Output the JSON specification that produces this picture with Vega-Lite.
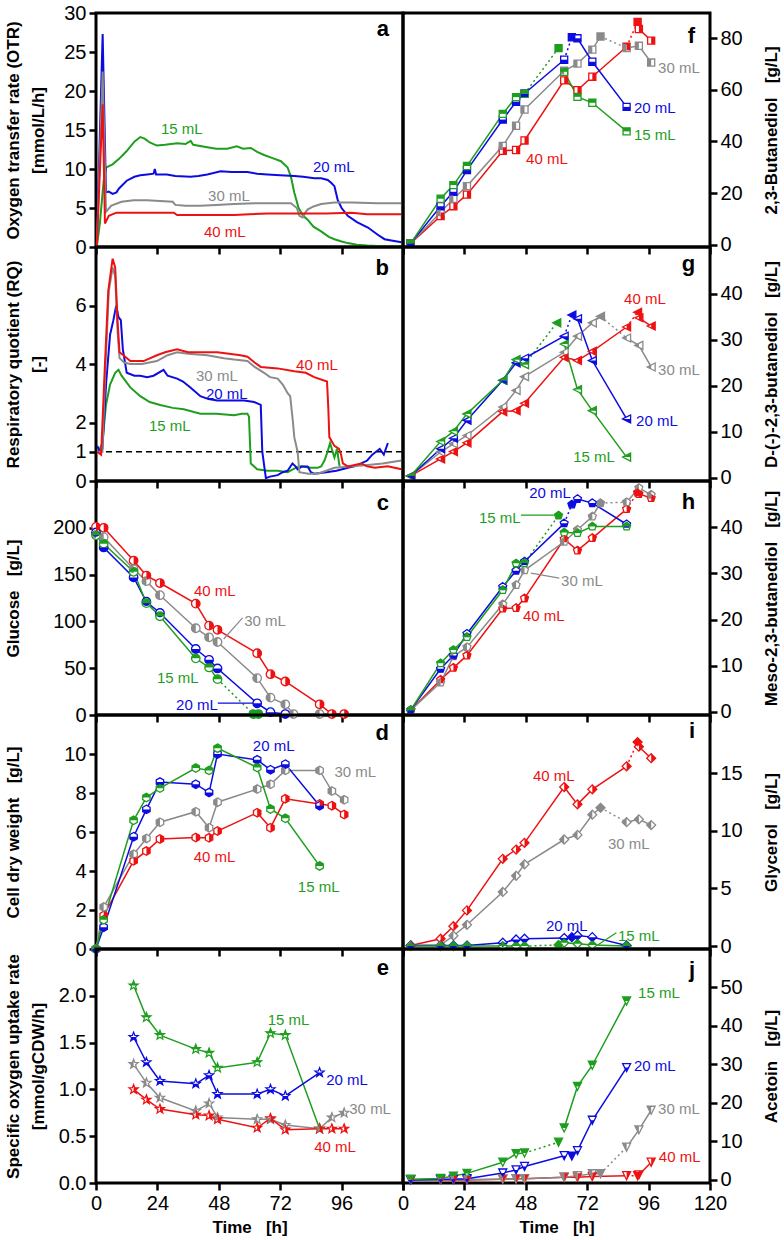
{
"$schema":"https://vega.github.io/schema/vega-lite/v6.json",
"padding":{"left":2,"top":1,"right":5,"bottom":5},
"background":"white",
"config":{"font":"Liberation Sans","view":{"stroke":"black","strokeWidth":3},
"axis":{"grid":false,"domain":false,"tickColor":"black","tickWidth":2.5,"tickSize":7,"labelFont":"Liberation Sans","labelFontSize":20,"labelColor":"black","labelPadding":3,"titleFont":"Liberation Sans","titleFontSize":17,"titleFontWeight":"bold","titleColor":"black","labelFlush":false},
"text":{"font":"Liberation Sans"}},
"datasets":{
"otr":[
{"vol":"15 mL","t":0.3,"v":0},{"vol":"15 mL","t":1.5,"v":3},{"vol":"15 mL","t":3,"v":8.5},{"vol":"15 mL","t":4,"v":10.2},{"vol":"15 mL","t":6.5,"v":10.6},{"vol":"15 mL","t":9,"v":11.3},{"vol":"15 mL","t":12,"v":12.3},{"vol":"15 mL","t":15,"v":13.5},{"vol":"15 mL","t":17.3,"v":14.1},{"vol":"15 mL","t":19,"v":13.9},{"vol":"15 mL","t":21,"v":13.4},{"vol":"15 mL","t":23.8,"v":13},{"vol":"15 mL","t":27,"v":13.1},{"vol":"15 mL","t":31.7,"v":13.3},{"vol":"15 mL","t":35,"v":13.2},{"vol":"15 mL","t":37,"v":13.6},{"vol":"15 mL","t":38,"v":13.1},{"vol":"15 mL","t":43.5,"v":12.8},{"vol":"15 mL","t":47,"v":12.6},{"vol":"15 mL","t":51.3,"v":12.6},{"vol":"15 mL","t":55,"v":12.9},{"vol":"15 mL","t":57.5,"v":12.6},{"vol":"15 mL","t":60.5,"v":12.7},{"vol":"15 mL","t":63,"v":12.2},{"vol":"15 mL","t":65.7,"v":11.8},{"vol":"15 mL","t":69,"v":11.4},{"vol":"15 mL","t":72.3,"v":11},{"vol":"15 mL","t":74.9,"v":10.2},{"vol":"15 mL","t":76.2,"v":9},{"vol":"15 mL","t":77.5,"v":7},{"vol":"15 mL","t":79.2,"v":5},{"vol":"15 mL","t":81,"v":4},{"vol":"15 mL","t":82.7,"v":3.5},{"vol":"15 mL","t":85,"v":2.6},{"vol":"15 mL","t":88,"v":2},{"vol":"15 mL","t":91,"v":1.3},{"vol":"15 mL","t":93.2,"v":1},{"vol":"15 mL","t":96,"v":0.7},{"vol":"15 mL","t":98.4,"v":0.5},{"vol":"15 mL","t":102,"v":0.3},{"vol":"15 mL","t":106,"v":0.2},{"vol":"15 mL","t":112,"v":0.1},{"vol":"15 mL","t":119.5,"v":0.1},
{"vol":"20 mL","t":0.3,"v":0},{"vol":"20 mL","t":2.6,"v":27.3},{"vol":"20 mL","t":3.9,"v":7},{"vol":"20 mL","t":5,"v":7.1},{"vol":"20 mL","t":6.5,"v":6.8},{"vol":"20 mL","t":8,"v":7},{"vol":"20 mL","t":9,"v":7.5},{"vol":"20 mL","t":12,"v":8.5},{"vol":"20 mL","t":15,"v":9},{"vol":"20 mL","t":17.3,"v":9.2},{"vol":"20 mL","t":20,"v":9.3},{"vol":"20 mL","t":22.5,"v":9.4},{"vol":"20 mL","t":23,"v":10},{"vol":"20 mL","t":23.5,"v":9.3},{"vol":"20 mL","t":27.7,"v":9.3},{"vol":"20 mL","t":31,"v":9.1},{"vol":"20 mL","t":36.9,"v":9},{"vol":"20 mL","t":40,"v":9.1},{"vol":"20 mL","t":43.5,"v":9.3},{"vol":"20 mL","t":48.7,"v":9.7},{"vol":"20 mL","t":53,"v":9.6},{"vol":"20 mL","t":59.2,"v":9.6},{"vol":"20 mL","t":63,"v":9.4},{"vol":"20 mL","t":67,"v":9.3},{"vol":"20 mL","t":72,"v":9.2},{"vol":"20 mL","t":77.5,"v":9.1},{"vol":"20 mL","t":81,"v":9},{"vol":"20 mL","t":85.3,"v":8.8},{"vol":"20 mL","t":88,"v":8.8},{"vol":"20 mL","t":90.6,"v":8.6},{"vol":"20 mL","t":92,"v":8.2},{"vol":"20 mL","t":93.2,"v":7.8},{"vol":"20 mL","t":94.5,"v":6},{"vol":"20 mL","t":96,"v":5},{"vol":"20 mL","t":98.4,"v":4},{"vol":"20 mL","t":102,"v":3.2},{"vol":"20 mL","t":106.3,"v":2.5},{"vol":"20 mL","t":110,"v":1.6},{"vol":"20 mL","t":112.8,"v":1},{"vol":"20 mL","t":116,"v":0.8},{"vol":"20 mL","t":119.4,"v":0.6},
{"vol":"30 mL","t":0.3,"v":0},{"vol":"30 mL","t":2.6,"v":22.5},{"vol":"30 mL","t":3.9,"v":4.5},{"vol":"30 mL","t":6,"v":5.3},{"vol":"30 mL","t":10,"v":5.8},{"vol":"30 mL","t":14.7,"v":6},{"vol":"30 mL","t":19.9,"v":6},{"vol":"30 mL","t":25,"v":5.9},{"vol":"30 mL","t":30,"v":5.8},{"vol":"30 mL","t":31,"v":5.4},{"vol":"30 mL","t":35,"v":5.3},{"vol":"30 mL","t":40.8,"v":5.3},{"vol":"30 mL","t":47,"v":5.4},{"vol":"30 mL","t":54,"v":5.5},{"vol":"30 mL","t":62,"v":5.6},{"vol":"30 mL","t":70,"v":5.6},{"vol":"30 mL","t":76.2,"v":5.6},{"vol":"30 mL","t":78.5,"v":5},{"vol":"30 mL","t":79.5,"v":4},{"vol":"30 mL","t":80.8,"v":3.8},{"vol":"30 mL","t":82,"v":4.5},{"vol":"30 mL","t":82.7,"v":4.8},{"vol":"30 mL","t":85,"v":5.2},{"vol":"30 mL","t":88,"v":5.5},{"vol":"30 mL","t":93.2,"v":5.7},{"vol":"30 mL","t":100,"v":5.7},{"vol":"30 mL","t":110,"v":5.6},{"vol":"30 mL","t":119.4,"v":5.6},
{"vol":"40 mL","t":0.3,"v":0},{"vol":"40 mL","t":2.6,"v":18.3},{"vol":"40 mL","t":3.5,"v":3},{"vol":"40 mL","t":5,"v":4},{"vol":"40 mL","t":8,"v":4.4},{"vol":"40 mL","t":15,"v":4.4},{"vol":"40 mL","t":25,"v":4.4},{"vol":"40 mL","t":30.4,"v":4.4},{"vol":"40 mL","t":31.7,"v":4.1},{"vol":"40 mL","t":40,"v":4.1},{"vol":"40 mL","t":54,"v":4.1},{"vol":"40 mL","t":60,"v":4.2},{"vol":"40 mL","t":67,"v":4.3},{"vol":"40 mL","t":80,"v":4.3},{"vol":"40 mL","t":90,"v":4.3},{"vol":"40 mL","t":99.7,"v":4.4},{"vol":"40 mL","t":103,"v":4.3},{"vol":"40 mL","t":106,"v":4.2},{"vol":"40 mL","t":119.4,"v":4.2}],
"rq":[
{"vol":"15 mL","t":0.5,"v":1},{"vol":"15 mL","t":1.5,"v":1.1},{"vol":"15 mL","t":2.5,"v":1.3},{"vol":"15 mL","t":3.9,"v":2.6},{"vol":"15 mL","t":5.5,"v":3.3},{"vol":"15 mL","t":7.5,"v":3.7},{"vol":"15 mL","t":8.8,"v":3.8},{"vol":"15 mL","t":10,"v":3.6},{"vol":"15 mL","t":13.4,"v":3.2},{"vol":"15 mL","t":17.3,"v":2.9},{"vol":"15 mL","t":21,"v":2.7},{"vol":"15 mL","t":25.1,"v":2.6},{"vol":"15 mL","t":30,"v":2.5},{"vol":"15 mL","t":34.3,"v":2.45},{"vol":"15 mL","t":40.8,"v":2.3},{"vol":"15 mL","t":47,"v":2.3},{"vol":"15 mL","t":54,"v":2.25},{"vol":"15 mL","t":57,"v":2.3},{"vol":"15 mL","t":59.2,"v":2.3},{"vol":"15 mL","t":59.8,"v":2.2},{"vol":"15 mL","t":60.5,"v":0.6},{"vol":"15 mL","t":63,"v":0.4},{"vol":"15 mL","t":67,"v":0.35},{"vol":"15 mL","t":71,"v":0.35},{"vol":"15 mL","t":74.9,"v":0.3},{"vol":"15 mL","t":78,"v":0.45},{"vol":"15 mL","t":80,"v":0.5},{"vol":"15 mL","t":84,"v":0.45},{"vol":"15 mL","t":86.6,"v":0.45},{"vol":"15 mL","t":88,"v":0.5},{"vol":"15 mL","t":89.3,"v":0.7},{"vol":"15 mL","t":90.5,"v":1},{"vol":"15 mL","t":91.5,"v":1.3},{"vol":"15 mL","t":92.5,"v":1},{"vol":"15 mL","t":93.2,"v":0.8},{"vol":"15 mL","t":94.2,"v":1.1},{"vol":"15 mL","t":95.2,"v":0.5},
{"vol":"20 mL","t":0.5,"v":1.2},{"vol":"20 mL","t":1.5,"v":1},{"vol":"20 mL","t":2.5,"v":1.1},{"vol":"20 mL","t":4,"v":3.4},{"vol":"20 mL","t":5.5,"v":5},{"vol":"20 mL","t":6.8,"v":5.5},{"vol":"20 mL","t":7.9,"v":6},{"vol":"20 mL","t":8.8,"v":5.6},{"vol":"20 mL","t":9.7,"v":5.5},{"vol":"20 mL","t":10.5,"v":4.5},{"vol":"20 mL","t":12,"v":3.7},{"vol":"20 mL","t":15,"v":3.6},{"vol":"20 mL","t":17.3,"v":3.6},{"vol":"20 mL","t":20,"v":3.55},{"vol":"20 mL","t":22.5,"v":3.6},{"vol":"20 mL","t":26.4,"v":3.8},{"vol":"20 mL","t":28,"v":3.6},{"vol":"20 mL","t":31.7,"v":3.5},{"vol":"20 mL","t":34,"v":3.4},{"vol":"20 mL","t":36.9,"v":3.2},{"vol":"20 mL","t":40.8,"v":2.9},{"vol":"20 mL","t":44,"v":2.8},{"vol":"20 mL","t":47.4,"v":2.75},{"vol":"20 mL","t":52,"v":2.75},{"vol":"20 mL","t":57.9,"v":2.75},{"vol":"20 mL","t":61.8,"v":2.7},{"vol":"20 mL","t":64.4,"v":2.6},{"vol":"20 mL","t":65,"v":1},{"vol":"20 mL","t":66.4,"v":0.1},{"vol":"20 mL","t":68,"v":0.15},{"vol":"20 mL","t":71,"v":0.2},{"vol":"20 mL","t":73,"v":0.3},{"vol":"20 mL","t":74.9,"v":0.35},{"vol":"20 mL","t":76.8,"v":0.6},{"vol":"20 mL","t":78,"v":0.5},{"vol":"20 mL","t":78.8,"v":0.4},{"vol":"20 mL","t":80.5,"v":0.5},{"vol":"20 mL","t":82.7,"v":0.5},{"vol":"20 mL","t":84,"v":0.3},{"vol":"20 mL","t":85.3,"v":0.25},{"vol":"20 mL","t":90,"v":0.3},{"vol":"20 mL","t":94,"v":0.35},{"vol":"20 mL","t":98.4,"v":0.45},{"vol":"20 mL","t":101,"v":0.5},{"vol":"20 mL","t":103.7,"v":0.6},{"vol":"20 mL","t":106,"v":0.7},{"vol":"20 mL","t":108,"v":0.9},{"vol":"20 mL","t":110.9,"v":1.1},{"vol":"20 mL","t":112.5,"v":0.9},{"vol":"20 mL","t":114.1,"v":1.3},
{"vol":"30 mL","t":0.5,"v":1},{"vol":"30 mL","t":2.5,"v":1},{"vol":"30 mL","t":3.5,"v":3.5},{"vol":"30 mL","t":5,"v":6.5},{"vol":"30 mL","t":6.5,"v":7.3},{"vol":"30 mL","t":7.5,"v":7},{"vol":"30 mL","t":8.5,"v":5},{"vol":"30 mL","t":9.2,"v":4.2},{"vol":"30 mL","t":11,"v":4.05},{"vol":"30 mL","t":13.4,"v":4},{"vol":"30 mL","t":18,"v":4},{"vol":"30 mL","t":23.8,"v":4.1},{"vol":"30 mL","t":28,"v":4.3},{"vol":"30 mL","t":31.7,"v":4.4},{"vol":"30 mL","t":36,"v":4.35},{"vol":"30 mL","t":43.5,"v":4.3},{"vol":"30 mL","t":50,"v":4.2},{"vol":"30 mL","t":54,"v":4.15},{"vol":"30 mL","t":59.2,"v":4.1},{"vol":"30 mL","t":62,"v":3.9},{"vol":"30 mL","t":65.7,"v":3.7},{"vol":"30 mL","t":68,"v":3.55},{"vol":"30 mL","t":71,"v":3.5},{"vol":"30 mL","t":73,"v":3.3},{"vol":"30 mL","t":74.9,"v":3},{"vol":"30 mL","t":75.9,"v":2.9},{"vol":"30 mL","t":77,"v":2},{"vol":"30 mL","t":77.5,"v":1.5},{"vol":"30 mL","t":78.8,"v":1},{"vol":"30 mL","t":79.5,"v":0.3},{"vol":"30 mL","t":83,"v":0.25},{"vol":"30 mL","t":86.6,"v":0.25},{"vol":"30 mL","t":90,"v":0.35},{"vol":"30 mL","t":93.2,"v":0.45},{"vol":"30 mL","t":100,"v":0.5},{"vol":"30 mL","t":106.3,"v":0.55},{"vol":"30 mL","t":112,"v":0.6},{"vol":"30 mL","t":119.4,"v":0.7},
{"vol":"40 mL","t":0.5,"v":1},{"vol":"40 mL","t":2,"v":0.9},{"vol":"40 mL","t":3.5,"v":4},{"vol":"40 mL","t":4.8,"v":6.5},{"vol":"40 mL","t":6.5,"v":7.6},{"vol":"40 mL","t":7.5,"v":7.3},{"vol":"40 mL","t":8.4,"v":5.5},{"vol":"40 mL","t":9.2,"v":4.4},{"vol":"40 mL","t":10.7,"v":4.3},{"vol":"40 mL","t":13.4,"v":4.1},{"vol":"40 mL","t":18.6,"v":4.1},{"vol":"40 mL","t":23.8,"v":4.3},{"vol":"40 mL","t":27,"v":4.4},{"vol":"40 mL","t":31.7,"v":4.5},{"vol":"40 mL","t":36,"v":4.4},{"vol":"40 mL","t":40.8,"v":4.4},{"vol":"40 mL","t":47.4,"v":4.4},{"vol":"40 mL","t":52,"v":4.35},{"vol":"40 mL","t":56.5,"v":4.3},{"vol":"40 mL","t":59.2,"v":4.25},{"vol":"40 mL","t":62,"v":4.05},{"vol":"40 mL","t":64.4,"v":3.9},{"vol":"40 mL","t":71,"v":3.85},{"vol":"40 mL","t":77.5,"v":3.75},{"vol":"40 mL","t":82,"v":3.7},{"vol":"40 mL","t":85.3,"v":3.55},{"vol":"40 mL","t":90.3,"v":3.4},{"vol":"40 mL","t":90.8,"v":2.5},{"vol":"40 mL","t":91.2,"v":1.5},{"vol":"40 mL","t":93.2,"v":1.2},{"vol":"40 mL","t":95,"v":1.1},{"vol":"40 mL","t":95.8,"v":0.9},{"vol":"40 mL","t":96.5,"v":0.6},{"vol":"40 mL","t":98.4,"v":0.5},{"vol":"40 mL","t":103.7,"v":0.6},{"vol":"40 mL","t":106,"v":0.5},{"vol":"40 mL","t":109,"v":0.45},{"vol":"40 mL","t":114,"v":0.5},{"vol":"40 mL","t":119.4,"v":0.4}],
"pts":[
{"p":"c","vol":"40 mL","t":0,"v":201},{"p":"c","vol":"40 mL","t":3,"v":200},{"p":"c","vol":"40 mL","t":14.7,"v":165},{"p":"c","vol":"40 mL","t":19.7,"v":149},{"p":"c","vol":"40 mL","t":25,"v":141},{"p":"c","vol":"40 mL","t":39,"v":119},{"p":"c","vol":"40 mL","t":44.2,"v":95.5},{"p":"c","vol":"40 mL","t":47.5,"v":91},{"p":"c","vol":"40 mL","t":63,"v":66},{"p":"c","vol":"40 mL","t":68.2,"v":43.6},{"p":"c","vol":"40 mL","t":74,"v":35.8},{"p":"c","vol":"40 mL","t":87.4,"v":11.4},{"p":"c","vol":"40 mL","t":92.2,"v":1},{"p":"c","vol":"40 mL","t":97,"v":1},
{"p":"c","vol":"30 mL","t":0,"v":193},{"p":"c","vol":"30 mL","t":3,"v":190},{"p":"c","vol":"30 mL","t":14.7,"v":156},{"p":"c","vol":"30 mL","t":19.7,"v":143},{"p":"c","vol":"30 mL","t":25,"v":128},{"p":"c","vol":"30 mL","t":39,"v":92.7},{"p":"c","vol":"30 mL","t":44.2,"v":83},{"p":"c","vol":"30 mL","t":47.5,"v":78},{"p":"c","vol":"30 mL","t":63,"v":39.4},{"p":"c","vol":"30 mL","t":68.2,"v":18.6},{"p":"c","vol":"30 mL","t":74,"v":11.4},{"p":"c","vol":"30 mL","t":77.2,"v":1},{"p":"c","vol":"30 mL","t":87.4,"v":1},
{"p":"c","vol":"20 mL","t":0,"v":195},{"p":"c","vol":"20 mL","t":3,"v":179},{"p":"c","vol":"20 mL","t":14.7,"v":147},{"p":"c","vol":"20 mL","t":19.7,"v":121},{"p":"c","vol":"20 mL","t":25,"v":109},{"p":"c","vol":"20 mL","t":39,"v":70.5},{"p":"c","vol":"20 mL","t":44.2,"v":59},{"p":"c","vol":"20 mL","t":47.5,"v":49.7},{"p":"c","vol":"20 mL","t":63,"v":12.5},{"p":"c","vol":"20 mL","t":68.2,"v":3},{"p":"c","vol":"20 mL","t":74,"v":1},
{"p":"c","vol":"15 mL","t":0,"v":192},{"p":"c","vol":"15 mL","t":3,"v":183},{"p":"c","vol":"15 mL","t":14.7,"v":153},{"p":"c","vol":"15 mL","t":19.7,"v":119.5},{"p":"c","vol":"15 mL","t":25,"v":105.5},{"p":"c","vol":"15 mL","t":39,"v":60.5},{"p":"c","vol":"15 mL","t":44.2,"v":50.8},{"p":"c","vol":"15 mL","t":47.5,"v":38.3},{"p":"c","vol":"15 mL","t":61.5,"v":1,"g":"x","f":1},{"p":"c","vol":"15 mL","t":63.5,"v":1,"g":"x","f":1},
{"p":"d","vol":"40 mL","t":0,"v":0},{"p":"d","vol":"40 mL","t":3,"v":1.72},{"p":"d","vol":"40 mL","t":14.7,"v":4.52},{"p":"d","vol":"40 mL","t":19.7,"v":5.02},{"p":"d","vol":"40 mL","t":25,"v":5.64},{"p":"d","vol":"40 mL","t":39,"v":5.72},{"p":"d","vol":"40 mL","t":44.2,"v":5.7},{"p":"d","vol":"40 mL","t":47.5,"v":6.05},{"p":"d","vol":"40 mL","t":63,"v":6.99},{"p":"d","vol":"40 mL","t":68.2,"v":6.22},{"p":"d","vol":"40 mL","t":74,"v":7.7},{"p":"d","vol":"40 mL","t":87.4,"v":7.44},{"p":"d","vol":"40 mL","t":92.2,"v":7.35},{"p":"d","vol":"40 mL","t":97,"v":6.9},
{"p":"d","vol":"30 mL","t":0,"v":0},{"p":"d","vol":"30 mL","t":3,"v":2.15},{"p":"d","vol":"30 mL","t":14.7,"v":4.86},{"p":"d","vol":"30 mL","t":19.7,"v":5.67},{"p":"d","vol":"30 mL","t":25,"v":6.5},{"p":"d","vol":"30 mL","t":39,"v":7.04},{"p":"d","vol":"30 mL","t":44.2,"v":6.22},{"p":"d","vol":"30 mL","t":47.5,"v":7.53},{"p":"d","vol":"30 mL","t":63,"v":8.2},{"p":"d","vol":"30 mL","t":68.2,"v":8.45},{"p":"d","vol":"30 mL","t":74,"v":9.16},{"p":"d","vol":"30 mL","t":87.4,"v":9.16},{"p":"d","vol":"30 mL","t":92.2,"v":8.1},{"p":"d","vol":"30 mL","t":97,"v":7.65},
{"p":"d","vol":"20 mL","t":0,"v":0},{"p":"d","vol":"20 mL","t":3,"v":1.12},{"p":"d","vol":"20 mL","t":14.7,"v":5.76},{"p":"d","vol":"20 mL","t":19.7,"v":7.16},{"p":"d","vol":"20 mL","t":25,"v":8.56},{"p":"d","vol":"20 mL","t":39,"v":8.45},{"p":"d","vol":"20 mL","t":44.2,"v":8.02},{"p":"d","vol":"20 mL","t":47.5,"v":10},{"p":"d","vol":"20 mL","t":63,"v":9.7},{"p":"d","vol":"20 mL","t":68.2,"v":9.19},{"p":"d","vol":"20 mL","t":74,"v":9.48},{"p":"d","vol":"20 mL","t":87.4,"v":7.35},
{"p":"d","vol":"15 mL","t":0,"v":0},{"p":"d","vol":"15 mL","t":3,"v":1.5},{"p":"d","vol":"15 mL","t":14.7,"v":6.6},{"p":"d","vol":"15 mL","t":19.7,"v":7.77},{"p":"d","vol":"15 mL","t":25,"v":8.25},{"p":"d","vol":"15 mL","t":39,"v":9.28},{"p":"d","vol":"15 mL","t":44.2,"v":9.16},{"p":"d","vol":"15 mL","t":47.5,"v":10.3},{"p":"d","vol":"15 mL","t":63,"v":9.31},{"p":"d","vol":"15 mL","t":68.2,"v":7.18},{"p":"d","vol":"15 mL","t":74,"v":6.7},{"p":"d","vol":"15 mL","t":87.4,"v":4.26},
{"p":"e","vol":"15 mL","t":14.7,"v":2.11},{"p":"e","vol":"15 mL","t":19.7,"v":1.77},{"p":"e","vol":"15 mL","t":25,"v":1.58},{"p":"e","vol":"15 mL","t":39,"v":1.43},{"p":"e","vol":"15 mL","t":44.2,"v":1.39},{"p":"e","vol":"15 mL","t":47.5,"v":1.23},{"p":"e","vol":"15 mL","t":63,"v":1.29},{"p":"e","vol":"15 mL","t":68.2,"v":1.6},{"p":"e","vol":"15 mL","t":74,"v":1.58},{"p":"e","vol":"15 mL","t":87.4,"v":0.58},
{"p":"e","vol":"20 mL","t":14.7,"v":1.56},{"p":"e","vol":"20 mL","t":19.7,"v":1.29},{"p":"e","vol":"20 mL","t":25,"v":1.09},{"p":"e","vol":"20 mL","t":39,"v":1.06},{"p":"e","vol":"20 mL","t":44.2,"v":1.15},{"p":"e","vol":"20 mL","t":47.5,"v":0.95},{"p":"e","vol":"20 mL","t":63,"v":0.95},{"p":"e","vol":"20 mL","t":68.2,"v":1},{"p":"e","vol":"20 mL","t":74,"v":0.93},{"p":"e","vol":"20 mL","t":87.4,"v":1.18},
{"p":"e","vol":"30 mL","t":14.7,"v":1.27},{"p":"e","vol":"30 mL","t":19.7,"v":1.07},{"p":"e","vol":"30 mL","t":25,"v":0.91},{"p":"e","vol":"30 mL","t":39,"v":0.77},{"p":"e","vol":"30 mL","t":44.2,"v":0.85},{"p":"e","vol":"30 mL","t":47.5,"v":0.7},{"p":"e","vol":"30 mL","t":63,"v":0.68},{"p":"e","vol":"30 mL","t":68.2,"v":0.68},{"p":"e","vol":"30 mL","t":74,"v":0.62},{"p":"e","vol":"30 mL","t":87.4,"v":0.58},{"p":"e","vol":"30 mL","t":92.2,"v":0.7},{"p":"e","vol":"30 mL","t":97,"v":0.75},
{"p":"e","vol":"40 mL","t":14.7,"v":1},{"p":"e","vol":"40 mL","t":19.7,"v":0.89},{"p":"e","vol":"40 mL","t":25,"v":0.79},{"p":"e","vol":"40 mL","t":39,"v":0.73},{"p":"e","vol":"40 mL","t":44.2,"v":0.72},{"p":"e","vol":"40 mL","t":47.5,"v":0.68},{"p":"e","vol":"40 mL","t":63,"v":0.59},{"p":"e","vol":"40 mL","t":68.2,"v":0.69},{"p":"e","vol":"40 mL","t":74,"v":0.57},{"p":"e","vol":"40 mL","t":87.4,"v":0.58},{"p":"e","vol":"40 mL","t":92.2,"v":0.58},{"p":"e","vol":"40 mL","t":97,"v":0.58},
{"p":"f","vol":"40 mL","t":3,"v":0.5},{"p":"f","vol":"40 mL","t":14.7,"v":11.1},{"p":"f","vol":"40 mL","t":19.7,"v":14.9},{"p":"f","vol":"40 mL","t":25,"v":19.4},{"p":"f","vol":"40 mL","t":39,"v":36.4},{"p":"f","vol":"40 mL","t":44.2,"v":36.7},{"p":"f","vol":"40 mL","t":47.5,"v":40.4},{"p":"f","vol":"40 mL","t":63,"v":63.7},{"p":"f","vol":"40 mL","t":68.2,"v":59.9},{"p":"f","vol":"40 mL","t":74,"v":65.1},{"p":"f","vol":"40 mL","t":87.4,"v":76.7},{"p":"f","vol":"40 mL","t":91.7,"v":86.3,"g":"x","f":1},{"p":"f","vol":"40 mL","t":92.2,"v":83.6,"g":"b"},{"p":"f","vol":"40 mL","t":97,"v":79.1,"g":"b"},
{"p":"f","vol":"30 mL","t":3,"v":0.5},{"p":"f","vol":"30 mL","t":14.7,"v":12.6},{"p":"f","vol":"30 mL","t":19.7,"v":17.8},{"p":"f","vol":"30 mL","t":25,"v":22.7},{"p":"f","vol":"30 mL","t":39,"v":38.3},{"p":"f","vol":"30 mL","t":44.2,"v":46.1},{"p":"f","vol":"30 mL","t":47.5,"v":52.4},{"p":"f","vol":"30 mL","t":63,"v":67.4},{"p":"f","vol":"30 mL","t":68.2,"v":70.2},{"p":"f","vol":"30 mL","t":74,"v":75.6},{"p":"f","vol":"30 mL","t":77.2,"v":80.7,"f":1},{"p":"f","vol":"30 mL","t":87.4,"v":76.2,"g":"b"},{"p":"f","vol":"30 mL","t":92.2,"v":77.1,"g":"b"},{"p":"f","vol":"30 mL","t":97,"v":70.6,"g":"b"},
{"p":"f","vol":"20 mL","t":3,"v":0.5},{"p":"f","vol":"20 mL","t":14.7,"v":14.9},{"p":"f","vol":"20 mL","t":19.7,"v":20.5},{"p":"f","vol":"20 mL","t":25,"v":28.9},{"p":"f","vol":"20 mL","t":39,"v":48.5},{"p":"f","vol":"20 mL","t":44.2,"v":55.4},{"p":"f","vol":"20 mL","t":47.5,"v":58.6},{"p":"f","vol":"20 mL","t":63,"v":71.7},{"p":"f","vol":"20 mL","t":66,"v":80.4,"g":"x","f":1},{"p":"f","vol":"20 mL","t":68.2,"v":80,"g":"b"},{"p":"f","vol":"20 mL","t":74,"v":70.9,"g":"b"},{"p":"f","vol":"20 mL","t":87.4,"v":53.4,"g":"b"},
{"p":"f","vol":"15 mL","t":3,"v":0.5},{"p":"f","vol":"15 mL","t":14.7,"v":17.8},{"p":"f","vol":"15 mL","t":19.7,"v":23.1},{"p":"f","vol":"15 mL","t":25,"v":30.5},{"p":"f","vol":"15 mL","t":39,"v":50.7},{"p":"f","vol":"15 mL","t":44.2,"v":57.2},{"p":"f","vol":"15 mL","t":47.5,"v":58.5},{"p":"f","vol":"15 mL","t":60.8,"v":76.2,"g":"x","f":1},{"p":"f","vol":"15 mL","t":63,"v":67,"g":"b"},{"p":"f","vol":"15 mL","t":68.2,"v":57.3,"g":"b"},{"p":"f","vol":"15 mL","t":74,"v":55,"g":"b"},{"p":"f","vol":"15 mL","t":87.4,"v":43.9,"g":"b"},
{"p":"g","vol":"40 mL","t":3,"v":0.4},{"p":"g","vol":"40 mL","t":14.7,"v":4.1},{"p":"g","vol":"40 mL","t":19.7,"v":5.7},{"p":"g","vol":"40 mL","t":25,"v":7.6},{"p":"g","vol":"40 mL","t":39,"v":14.4},{"p":"g","vol":"40 mL","t":44.2,"v":14.6},{"p":"g","vol":"40 mL","t":47.5,"v":16.2},{"p":"g","vol":"40 mL","t":63,"v":26.2},{"p":"g","vol":"40 mL","t":68.2,"v":25.5},{"p":"g","vol":"40 mL","t":74,"v":27.5},{"p":"g","vol":"40 mL","t":87.4,"v":32.8},{"p":"g","vol":"40 mL","t":91.7,"v":36,"g":"x","f":1},{"p":"g","vol":"40 mL","t":92.2,"v":34.8,"g":"b"},{"p":"g","vol":"40 mL","t":97,"v":33,"g":"b"},
{"p":"g","vol":"30 mL","t":3,"v":0.4},{"p":"g","vol":"30 mL","t":14.7,"v":5.6},{"p":"g","vol":"30 mL","t":19.7,"v":7.4},{"p":"g","vol":"30 mL","t":25,"v":9.2},{"p":"g","vol":"30 mL","t":39,"v":15.4},{"p":"g","vol":"30 mL","t":44.2,"v":19},{"p":"g","vol":"30 mL","t":47.5,"v":22},{"p":"g","vol":"30 mL","t":63,"v":27.3},{"p":"g","vol":"30 mL","t":68.2,"v":30.8},{"p":"g","vol":"30 mL","t":74,"v":33.7},{"p":"g","vol":"30 mL","t":77.2,"v":35.1,"f":1},{"p":"g","vol":"30 mL","t":87.4,"v":30.4,"g":"b"},{"p":"g","vol":"30 mL","t":92.2,"v":28.8,"g":"b"},{"p":"g","vol":"30 mL","t":97,"v":24.1,"g":"b"},
{"p":"g","vol":"20 mL","t":3,"v":0.4},{"p":"g","vol":"20 mL","t":14.7,"v":6.3},{"p":"g","vol":"20 mL","t":19.7,"v":8.6},{"p":"g","vol":"20 mL","t":25,"v":12.5},{"p":"g","vol":"20 mL","t":39,"v":21.2},{"p":"g","vol":"20 mL","t":44.2,"v":25},{"p":"g","vol":"20 mL","t":47.5,"v":26},{"p":"g","vol":"20 mL","t":63,"v":30.8},{"p":"g","vol":"20 mL","t":66,"v":35.4,"g":"x","f":1},{"p":"g","vol":"20 mL","t":68.2,"v":34.6,"g":"b"},{"p":"g","vol":"20 mL","t":74,"v":25.5,"g":"b"},{"p":"g","vol":"20 mL","t":87.4,"v":12.8,"g":"b"},
{"p":"g","vol":"15 mL","t":3,"v":0.4},{"p":"g","vol":"15 mL","t":14.7,"v":7.9},{"p":"g","vol":"15 mL","t":19.7,"v":10.1},{"p":"g","vol":"15 mL","t":25,"v":13.9},{"p":"g","vol":"15 mL","t":39,"v":21.2},{"p":"g","vol":"15 mL","t":44.2,"v":25.7},{"p":"g","vol":"15 mL","t":47.5,"v":24.6},{"p":"g","vol":"15 mL","t":60.1,"v":33.7,"g":"x","f":1},{"p":"g","vol":"15 mL","t":63,"v":29.1,"g":"b"},{"p":"g","vol":"15 mL","t":68.2,"v":19.2,"g":"b"},{"p":"g","vol":"15 mL","t":74,"v":14.6,"g":"b"},{"p":"g","vol":"15 mL","t":87.4,"v":4.5,"g":"b"},
{"p":"h","vol":"40 mL","t":3,"v":0.3},{"p":"h","vol":"40 mL","t":14.7,"v":6.9},{"p":"h","vol":"40 mL","t":19.7,"v":9.5},{"p":"h","vol":"40 mL","t":25,"v":12.2},{"p":"h","vol":"40 mL","t":39,"v":22.4},{"p":"h","vol":"40 mL","t":44.2,"v":22.5},{"p":"h","vol":"40 mL","t":47.5,"v":24.6},{"p":"h","vol":"40 mL","t":63,"v":37.5},{"p":"h","vol":"40 mL","t":68.2,"v":35},{"p":"h","vol":"40 mL","t":74,"v":37.7},{"p":"h","vol":"40 mL","t":87.4,"v":44},{"p":"h","vol":"40 mL","t":91.7,"v":47.6,"g":"x","f":1},{"p":"h","vol":"40 mL","t":92.2,"v":47.3,"g":"b"},{"p":"h","vol":"40 mL","t":97,"v":46.4,"g":"b"},
{"p":"h","vol":"30 mL","t":3,"v":0.3},{"p":"h","vol":"30 mL","t":14.7,"v":6.3},{"p":"h","vol":"30 mL","t":19.7,"v":12},{"p":"h","vol":"30 mL","t":25,"v":14},{"p":"h","vol":"30 mL","t":39,"v":23.3},{"p":"h","vol":"30 mL","t":44.2,"v":27.5},{"p":"h","vol":"30 mL","t":47.5,"v":30.7},{"p":"h","vol":"30 mL","t":63,"v":36.9},{"p":"h","vol":"30 mL","t":68.2,"v":39.5},{"p":"h","vol":"30 mL","t":74,"v":42.4},{"p":"h","vol":"30 mL","t":77.2,"v":45.3,"f":1},{"p":"h","vol":"30 mL","t":87.4,"v":45.5,"g":"b"},{"p":"h","vol":"30 mL","t":92.2,"v":48.6,"g":"b"},{"p":"h","vol":"30 mL","t":97,"v":47.1,"g":"b"},
{"p":"h","vol":"20 mL","t":3,"v":0.3},{"p":"h","vol":"20 mL","t":14.7,"v":9.3},{"p":"h","vol":"20 mL","t":19.7,"v":12.2},{"p":"h","vol":"20 mL","t":25,"v":16.9},{"p":"h","vol":"20 mL","t":39,"v":27.1},{"p":"h","vol":"20 mL","t":44.2,"v":30.6},{"p":"h","vol":"20 mL","t":47.5,"v":32.6},{"p":"h","vol":"20 mL","t":63,"v":40.9},{"p":"h","vol":"20 mL","t":66,"v":45,"g":"x","f":1},{"p":"h","vol":"20 mL","t":68.2,"v":46.2,"g":"b"},{"p":"h","vol":"20 mL","t":74,"v":45.3,"g":"b"},{"p":"h","vol":"20 mL","t":87.4,"v":40.7,"g":"b"},
{"p":"h","vol":"15 mL","t":3,"v":0.3},{"p":"h","vol":"15 mL","t":14.7,"v":10.5},{"p":"h","vol":"15 mL","t":19.7,"v":13.4},{"p":"h","vol":"15 mL","t":25,"v":16.2},{"p":"h","vol":"15 mL","t":39,"v":26.4},{"p":"h","vol":"15 mL","t":44.2,"v":32.2},{"p":"h","vol":"15 mL","t":47.5,"v":32.3},{"p":"h","vol":"15 mL","t":60.8,"v":42.6,"g":"x","f":1},{"p":"h","vol":"15 mL","t":63,"v":38.9,"g":"b"},{"p":"h","vol":"15 mL","t":68.2,"v":38.8,"g":"b"},{"p":"h","vol":"15 mL","t":74,"v":40.2,"g":"b"},{"p":"h","vol":"15 mL","t":87.4,"v":40.2,"g":"b"},
{"p":"i","vol":"40 mL","t":3,"v":0.06},{"p":"i","vol":"40 mL","t":14.7,"v":0.64},{"p":"i","vol":"40 mL","t":19.7,"v":1.73},{"p":"i","vol":"40 mL","t":25,"v":3.1},{"p":"i","vol":"40 mL","t":39,"v":7.57},{"p":"i","vol":"40 mL","t":44.2,"v":8.38},{"p":"i","vol":"40 mL","t":47.5,"v":8.96},{"p":"i","vol":"40 mL","t":63,"v":13.8},{"p":"i","vol":"40 mL","t":68.2,"v":12.3},{"p":"i","vol":"40 mL","t":74,"v":13.6},{"p":"i","vol":"40 mL","t":87.4,"v":15.6},{"p":"i","vol":"40 mL","t":91.7,"v":17.7,"g":"x","f":1},{"p":"i","vol":"40 mL","t":92.2,"v":17.3,"g":"b"},{"p":"i","vol":"40 mL","t":97,"v":16.3,"g":"b"},
{"p":"i","vol":"30 mL","t":3,"v":0.05},{"p":"i","vol":"30 mL","t":14.7,"v":0.1},{"p":"i","vol":"30 mL","t":19.7,"v":0.9},{"p":"i","vol":"30 mL","t":25,"v":1.85},{"p":"i","vol":"30 mL","t":39,"v":4.7},{"p":"i","vol":"30 mL","t":44.2,"v":6.1},{"p":"i","vol":"30 mL","t":47.5,"v":7.1},{"p":"i","vol":"30 mL","t":63,"v":9.25},{"p":"i","vol":"30 mL","t":68.2,"v":9.65},{"p":"i","vol":"30 mL","t":74,"v":11.4},{"p":"i","vol":"30 mL","t":77.2,"v":12,"f":1},{"p":"i","vol":"30 mL","t":87.4,"v":10.75,"g":"b"},{"p":"i","vol":"30 mL","t":92.2,"v":11,"g":"b"},{"p":"i","vol":"30 mL","t":97,"v":10.5,"g":"b"},
{"p":"i","vol":"20 mL","t":3,"v":0.05},{"p":"i","vol":"20 mL","t":14.7,"v":0.05},{"p":"i","vol":"20 mL","t":19.7,"v":0.05},{"p":"i","vol":"20 mL","t":25,"v":0.05},{"p":"i","vol":"20 mL","t":39,"v":0.3},{"p":"i","vol":"20 mL","t":44.2,"v":0.58},{"p":"i","vol":"20 mL","t":47.5,"v":0.64},{"p":"i","vol":"20 mL","t":63,"v":0.7},{"p":"i","vol":"20 mL","t":66,"v":0.78,"g":"x","f":1},{"p":"i","vol":"20 mL","t":68.2,"v":0.92,"g":"b"},{"p":"i","vol":"20 mL","t":74,"v":0.78,"g":"b"},{"p":"i","vol":"20 mL","t":87.4,"v":0.06,"g":"b"},
{"p":"i","vol":"15 mL","t":3,"v":0},{"p":"i","vol":"15 mL","t":14.7,"v":0},{"p":"i","vol":"15 mL","t":19.7,"v":0},{"p":"i","vol":"15 mL","t":25,"v":0},{"p":"i","vol":"15 mL","t":39,"v":0},{"p":"i","vol":"15 mL","t":44.2,"v":0},{"p":"i","vol":"15 mL","t":47.5,"v":0},{"p":"i","vol":"15 mL","t":60.8,"v":0.1,"g":"x","f":1},{"p":"i","vol":"15 mL","t":63,"v":0.3,"g":"b"},{"p":"i","vol":"15 mL","t":68.2,"v":0.2,"g":"b"},{"p":"i","vol":"15 mL","t":74,"v":0.1,"g":"b"},{"p":"i","vol":"15 mL","t":87.4,"v":0,"g":"b"},
{"p":"j","vol":"40 mL","t":3,"v":0},{"p":"j","vol":"40 mL","t":14.7,"v":0},{"p":"j","vol":"40 mL","t":19.7,"v":0},{"p":"j","vol":"40 mL","t":25,"v":0},{"p":"j","vol":"40 mL","t":39,"v":0.2},{"p":"j","vol":"40 mL","t":44.2,"v":0.3},{"p":"j","vol":"40 mL","t":47.5,"v":0.3},{"p":"j","vol":"40 mL","t":63,"v":0.7},{"p":"j","vol":"40 mL","t":68.2,"v":0.7},{"p":"j","vol":"40 mL","t":74,"v":0.9},{"p":"j","vol":"40 mL","t":87.4,"v":1.1},{"p":"j","vol":"40 mL","t":91.7,"v":1.1,"g":"x","f":1},{"p":"j","vol":"40 mL","t":92.2,"v":1.3,"g":"b"},{"p":"j","vol":"40 mL","t":97,"v":4.6,"g":"b"},
{"p":"j","vol":"30 mL","t":3,"v":0},{"p":"j","vol":"30 mL","t":14.7,"v":0.05},{"p":"j","vol":"30 mL","t":19.7,"v":0.1},{"p":"j","vol":"30 mL","t":25,"v":0.1},{"p":"j","vol":"30 mL","t":39,"v":0.2},{"p":"j","vol":"30 mL","t":44.2,"v":0.3},{"p":"j","vol":"30 mL","t":47.5,"v":0.3},{"p":"j","vol":"30 mL","t":63,"v":0.7},{"p":"j","vol":"30 mL","t":68.2,"v":1.1},{"p":"j","vol":"30 mL","t":74,"v":1.6},{"p":"j","vol":"30 mL","t":77.2,"v":1.6,"f":1},{"p":"j","vol":"30 mL","t":87.4,"v":8.5,"g":"b"},{"p":"j","vol":"30 mL","t":92.2,"v":13,"g":"b"},{"p":"j","vol":"30 mL","t":97,"v":18.1,"g":"b"},
{"p":"j","vol":"20 mL","t":3,"v":0},{"p":"j","vol":"20 mL","t":14.7,"v":0.2},{"p":"j","vol":"20 mL","t":19.7,"v":0.2},{"p":"j","vol":"20 mL","t":25,"v":0.3},{"p":"j","vol":"20 mL","t":39,"v":1.8},{"p":"j","vol":"20 mL","t":44.2,"v":2.6},{"p":"j","vol":"20 mL","t":47.5,"v":3.5},{"p":"j","vol":"20 mL","t":63,"v":6.3},{"p":"j","vol":"20 mL","t":66,"v":6.2,"g":"x","f":1},{"p":"j","vol":"20 mL","t":68.2,"v":7.6,"g":"b"},{"p":"j","vol":"20 mL","t":74,"v":15.5,"g":"b"},{"p":"j","vol":"20 mL","t":87.4,"v":29.2,"g":"b"},
{"p":"j","vol":"15 mL","t":3,"v":0.2},{"p":"j","vol":"15 mL","t":14.7,"v":0.4},{"p":"j","vol":"15 mL","t":19.7,"v":1},{"p":"j","vol":"15 mL","t":25,"v":1.7},{"p":"j","vol":"15 mL","t":39,"v":4.6},{"p":"j","vol":"15 mL","t":44.2,"v":6.8},{"p":"j","vol":"15 mL","t":47.5,"v":7},{"p":"j","vol":"15 mL","t":60.8,"v":9.8,"g":"x","f":1},{"p":"j","vol":"15 mL","t":63,"v":13.5,"g":"b"},{"p":"j","vol":"15 mL","t":68.2,"v":24.3,"g":"b"},{"p":"j","vol":"15 mL","t":74,"v":29.8,"g":"b"},{"p":"j","vol":"15 mL","t":87.4,"v":46.5,"g":"b"}],
"dots":[
{"p":"c","vol":"15 mL","g":"d","t":47.5,"v":38.3},{"p":"c","vol":"15 mL","g":"d","t":61.5,"v":1},
{"p":"f","vol":"15 mL","g":"d","t":47.5,"v":58.5},{"p":"f","vol":"15 mL","g":"d","t":60.8,"v":76.2},{"p":"f","vol":"20 mL","g":"d","t":63,"v":71.7},{"p":"f","vol":"20 mL","g":"d","t":66,"v":80.4},{"p":"f","vol":"30 mL","g":"d","t":77.2,"v":80.7},{"p":"f","vol":"30 mL","g":"d","t":87.4,"v":76.2},{"p":"f","vol":"40 mL","g":"d","t":87.4,"v":76.7},{"p":"f","vol":"40 mL","g":"d","t":91.7,"v":86.3},
{"p":"g","vol":"15 mL","g":"d","t":47.5,"v":24.6},{"p":"g","vol":"15 mL","g":"d","t":60.1,"v":33.7},{"p":"g","vol":"20 mL","g":"d","t":63,"v":30.8},{"p":"g","vol":"20 mL","g":"d","t":66,"v":35.4},{"p":"g","vol":"30 mL","g":"d","t":77.2,"v":35.1},{"p":"g","vol":"30 mL","g":"d","t":87.4,"v":30.4},{"p":"g","vol":"40 mL","g":"d","t":87.4,"v":32.8},{"p":"g","vol":"40 mL","g":"d","t":91.7,"v":36},
{"p":"h","vol":"15 mL","g":"d","t":47.5,"v":32.3},{"p":"h","vol":"15 mL","g":"d","t":60.8,"v":42.6},{"p":"h","vol":"20 mL","g":"d","t":63,"v":40.9},{"p":"h","vol":"20 mL","g":"d","t":66,"v":45},{"p":"h","vol":"30 mL","g":"d","t":77.2,"v":45.3},{"p":"h","vol":"30 mL","g":"d","t":87.4,"v":45.5},{"p":"h","vol":"40 mL","g":"d","t":87.4,"v":44},{"p":"h","vol":"40 mL","g":"d","t":91.7,"v":47.6},
{"p":"i","vol":"15 mL","g":"d","t":47.5,"v":0},{"p":"i","vol":"15 mL","g":"d","t":60.8,"v":0.1},{"p":"i","vol":"20 mL","g":"d","t":63,"v":0.7},{"p":"i","vol":"20 mL","g":"d","t":66,"v":0.78},{"p":"i","vol":"30 mL","g":"d","t":77.2,"v":12},{"p":"i","vol":"30 mL","g":"d","t":87.4,"v":10.75},{"p":"i","vol":"40 mL","g":"d","t":87.4,"v":15.6},{"p":"i","vol":"40 mL","g":"d","t":91.7,"v":17.7},
{"p":"j","vol":"15 mL","g":"d","t":47.5,"v":7},{"p":"j","vol":"15 mL","g":"d","t":60.8,"v":9.8},{"p":"j","vol":"20 mL","g":"d","t":63,"v":6.3},{"p":"j","vol":"20 mL","g":"d","t":66,"v":6.2},{"p":"j","vol":"30 mL","g":"d","t":77.2,"v":1.6},{"p":"j","vol":"30 mL","g":"d","t":87.4,"v":8.5},{"p":"j","vol":"40 mL","g":"d","t":87.4,"v":1.1},{"p":"j","vol":"40 mL","g":"d","t":91.7,"v":1.1}],
"lab":[
{"p":"a","vol":"15 mL","t":25.4,"v":15.1,"txt":"15 mL"},{"p":"a","vol":"20 mL","t":84.8,"v":10.3,"txt":"20 mL"},{"p":"a","vol":"30 mL","t":43.8,"v":6.5,"txt":"30 mL"},{"p":"a","vol":"40 mL","t":42.2,"v":1.9,"txt":"40 mL"},
{"p":"b","vol":"40 mL","t":78.2,"v":3.98,"txt":"40 mL"},{"p":"b","vol":"30 mL","t":39.1,"v":3.6,"txt":"30 mL"},{"p":"b","vol":"20 mL","t":43,"v":2.99,"txt":"20 mL"},{"p":"b","vol":"15 mL","t":20.7,"v":1.87,"txt":"15 mL"},
{"p":"c","vol":"40 mL","t":38.3,"v":132.7,"txt":"40 mL"},{"p":"c","vol":"30 mL","t":57.9,"v":100.5,"txt":"30 mL"},{"p":"c","vol":"15 mL","t":23.8,"v":39.4,"txt":"15 mL"},{"p":"c","vol":"20 mL","t":31.3,"v":10.4,"txt":"20 mL"},
{"p":"d","vol":"20 mL","t":61.3,"v":10.4,"txt":"20 mL"},{"p":"d","vol":"30 mL","t":93.2,"v":9.1,"txt":"30 mL"},{"p":"d","vol":"40 mL","t":38.2,"v":4.7,"txt":"40 mL"},{"p":"d","vol":"15 mL","t":78.9,"v":3.2,"txt":"15 mL"},
{"p":"e","vol":"15 mL","t":67.1,"v":1.74,"txt":"15 mL"},{"p":"e","vol":"20 mL","t":90,"v":1.1,"txt":"20 mL"},{"p":"e","vol":"30 mL","t":99,"v":0.79,"txt":"30 mL"},{"p":"e","vol":"40 mL","t":85.3,"v":0.38,"txt":"40 mL"},
{"p":"f","vol":"30 mL","t":99.7,"v":68.5,"txt":"30 mL"},{"p":"f","vol":"20 mL","t":90.3,"v":53,"txt":"20 mL"},{"p":"f","vol":"15 mL","t":90.3,"v":42.5,"txt":"15 mL"},{"p":"f","vol":"40 mL","t":48.1,"v":33.2,"txt":"40 mL"},
{"p":"g","vol":"40 mL","t":86.4,"v":38.9,"txt":"40 mL"},{"p":"g","vol":"30 mL","t":99.7,"v":23.5,"txt":"30 mL"},{"p":"g","vol":"20 mL","t":91.1,"v":12.4,"txt":"20 mL"},{"p":"g","vol":"15 mL","t":66.5,"v":4.6,"txt":"15 mL"},
{"p":"h","vol":"20 mL","t":49.3,"v":47.5,"txt":"20 mL"},{"p":"h","vol":"15 mL","t":29.7,"v":42,"txt":"15 mL"},{"p":"h","vol":"30 mL","t":61.8,"v":28.3,"txt":"30 mL"},{"p":"h","vol":"40 mL","t":46.9,"v":20.8,"txt":"40 mL"},
{"p":"i","vol":"40 mL","t":50.8,"v":14.8,"txt":"40 mL"},{"p":"i","vol":"30 mL","t":80.1,"v":8.9,"txt":"30 mL"},{"p":"i","vol":"20 mL","t":55.9,"v":1.77,"txt":"20 mL"},{"p":"i","vol":"15 mL","t":84,"v":0.9,"txt":"15 mL"},
{"p":"j","vol":"15 mL","t":91.9,"v":48.5,"txt":"15 mL"},{"p":"j","vol":"20 mL","t":90.3,"v":29.7,"txt":"20 mL"},{"p":"j","vol":"30 mL","t":99.7,"v":18.3,"txt":"30 mL"},{"p":"j","vol":"40 mL","t":100,"v":6,"txt":"40 mL"}],
"lead":[
{"p":"c","vol":"30 mL","t":49.9,"v":81.2,"t2":57.3,"v2":103.8},{"p":"c","vol":"20 mL","t":47.6,"v":12.6,"t2":62.9,"v2":12.6},
{"p":"h","vol":"15 mL","t":46.1,"v":42.7,"t2":59.8,"v2":42.7},{"p":"h","vol":"30 mL","t":50,"v":30.1,"t2":61.1,"v2":29},
{"p":"i","vol":"15 mL","t":76.1,"v":0.1,"t2":83.4,"v2":1.16}],
"let":[
{"p":"a","t":114.5,"v":27.9,"txt":"a"},{"p":"b","t":114.5,"v":7.28,"txt":"b"},{"p":"c","t":114.5,"v":227,"txt":"c"},{"p":"d","t":114.5,"v":11.1,"txt":"d"},{"p":"e","t":114.5,"v":2.3,"txt":"e"},
{"p":"f","t":114.2,"v":80.9,"txt":"f"},{"p":"g","t":114.2,"v":46.5,"txt":"g"},{"p":"h","t":114.2,"v":45.5,"txt":"h"},{"p":"i","t":114.2,"v":18.7,"txt":"i"},{"p":"j","t":114.2,"v":54.5,"txt":"j"}]
},
"columns":2,
"spacing":0,
"bounds":"flush",
"resolve":{"scale":{"x":"independent","y":"independent","shape":"independent"}},
"concat":[
{"width":307,"height":234,
"encoding":{"x":{"field":"t","type":"quantitative","scale":{"domain":[0,120],"nice":false,"zero":false},"axis":{"values":[0,24,48,72,96,120],"labels":false,"title":null}},
"y":{"field":"v","type":"quantitative","scale":{"domain":[0,30],"nice":false,"zero":false},"axis":{"values":[0,5,10,15,20,25,30],"title":["Oxygen transfer rate (OTR)","[mmol/L/h]"],"titleX":-83,"titleBaseline":"middle","titleLineHeight":25}},
"color":{"field":"vol","type":"nominal","scale":{"domain":["15 mL","20 mL","30 mL","40 mL"],"range":["#1e9e1e","#0c0ce0","#8a8a8a","#ee1111"]},"legend":null}},
"layer":[
{"data":{"values":[{"t":2.6}]},"mark":{"type":"rule","strokeWidth":1.5,"strokeDash":[2,3]},"encoding":{"y":{"datum":0},"y2":{"datum":30},"color":{"value":"black"}}},
{"data":{"name":"otr"},"mark":{"type":"line","strokeWidth":2}},
{"data":{"name":"lab"},"transform":[{"filter":"datum.p=='a'"}],"mark":{"type":"text","align":"left","baseline":"middle","fontSize":15},"encoding":{"text":{"field":"txt"}}},
{"data":{"name":"let"},"transform":[{"filter":"datum.p=='a'"}],"mark":{"type":"text","align":"right","baseline":"middle","fontSize":22,"fontWeight":"bold"},"encoding":{"text":{"field":"txt"},"color":{"value":"black"}}}]},
{"width":307,"height":234,
"encoding":{"x":{"field":"t","type":"quantitative","scale":{"domain":[0,120],"nice":false,"zero":false},"axis":{"values":[0,24,48,72,96,120],"labels":false,"title":null}},
"y":{"field":"v","type":"quantitative","scale":{"domain":[-0.9,89.8],"nice":false,"zero":false},"axis":{"orient":"right","values":[0,20,40,60,80],"title":"2,3-Butanediol\u00a0\u00a0\u00a0[g/L]","titleAngle":270,"titleX":61,"titleBaseline":"middle"}},
"color":{"field":"vol","type":"nominal","scale":{"domain":["15 mL","20 mL","30 mL","40 mL"],"range":["#1e9e1e","#0c0ce0","#8a8a8a","#ee1111"]},"legend":null}},
"layer":[
{"data":{"values":[{"t":2.6}]},"mark":{"type":"rule","strokeWidth":1.5,"strokeDash":[2,3]},"encoding":{"y":{"datum":-0.9},"y2":{"datum":89.8},"color":{"value":"black"}}},
{"data":{"name":"dots"},"transform":[{"filter":"datum.p=='f'"}],"mark":{"type":"line","strokeWidth":1.5,"strokeDash":[2,3]},"encoding":{"detail":{"field":"g"}}},
{"data":{"name":"pts"},"transform":[{"filter":"datum.p=='f' && datum.g!='x'"}],"mark":{"type":"line","strokeWidth":1.5},"encoding":{"detail":{"field":"g"}}},
{"data":{"name":"pts"},"transform":[{"filter":"datum.p=='f'"}],"mark":{"type":"point","shape":"M-1,-1H1V1H-1Z","filled":false,"fill":"white","fillOpacity":1,"opacity":1,"size":50,"strokeWidth":1.3}},
{"data":{"name":"pts"},"transform":[{"filter":"datum.p=='f' && datum.f!=1"}],"mark":{"type":"point","filled":true,"opacity":1,"size":50,"strokeWidth":0},"encoding":{"shape":{"field":"vol","type":"nominal","scale":{"domain":["15 mL","20 mL","30 mL","40 mL"],"range":["M-1,-1H1V0H-1Z","M-1,0H1V1H-1Z","M-1,-1H0V1H-1Z","M0,-1H1V1H0Z"]},"legend":null}}},
{"data":{"name":"pts"},"transform":[{"filter":"datum.p=='f' && datum.f==1"}],"mark":{"type":"point","shape":"M-1,-1H1V1H-1Z","filled":true,"opacity":1,"size":50}},
{"data":{"name":"lab"},"transform":[{"filter":"datum.p=='f'"}],"mark":{"type":"text","align":"left","baseline":"middle","fontSize":15},"encoding":{"text":{"field":"txt"}}},
{"data":{"name":"let"},"transform":[{"filter":"datum.p=='f'"}],"mark":{"type":"text","align":"right","baseline":"middle","fontSize":22,"fontWeight":"bold"},"encoding":{"text":{"field":"txt"},"color":{"value":"black"}}}]},
{"width":307,"height":234,
"encoding":{"x":{"field":"t","type":"quantitative","scale":{"domain":[0,120],"nice":false,"zero":false},"axis":{"values":[0,24,48,72,96,120],"labels":false,"title":null}},
"y":{"field":"v","type":"quantitative","scale":{"domain":[0,8],"nice":false,"zero":false},"axis":{"values":[0,1,2,4,6],"title":["Respiratory quotient (RQ)","[-]"],"titleX":-83,"titleBaseline":"middle","titleLineHeight":25}},
"color":{"field":"vol","type":"nominal","scale":{"domain":["15 mL","20 mL","30 mL","40 mL"],"range":["#1e9e1e","#0c0ce0","#8a8a8a","#ee1111"]},"legend":null}},
"layer":[
{"data":{"values":[{"t":2.6}]},"mark":{"type":"rule","strokeWidth":1.5,"strokeDash":[2,3]},"encoding":{"y":{"datum":0},"y2":{"datum":8},"color":{"value":"black"}}},
{"data":{"values":[{"t":0,"t2":120,"v":1}]},"mark":{"type":"rule","strokeWidth":1.5,"strokeDash":[6,4]},"encoding":{"x2":{"field":"t2"},"color":{"value":"black"}}},
{"data":{"name":"rq"},"mark":{"type":"line","strokeWidth":2}},
{"data":{"name":"lab"},"transform":[{"filter":"datum.p=='b'"}],"mark":{"type":"text","align":"left","baseline":"middle","fontSize":15},"encoding":{"text":{"field":"txt"}}},
{"data":{"name":"let"},"transform":[{"filter":"datum.p=='b'"}],"mark":{"type":"text","align":"right","baseline":"middle","fontSize":22,"fontWeight":"bold"},"encoding":{"text":{"field":"txt"},"color":{"value":"black"}}}]},
{"width":307,"height":234,
"encoding":{"x":{"field":"t","type":"quantitative","scale":{"domain":[0,120],"nice":false,"zero":false},"axis":{"values":[0,24,48,72,96,120],"labels":false,"title":null}},
"y":{"field":"v","type":"quantitative","scale":{"domain":[-0.7,50.2],"nice":false,"zero":false},"axis":{"orient":"right","values":[0,10,20,30,40],"title":"D-(-)-2,3-butanediol\u00a0\u00a0\u00a0[g/L]","titleAngle":270,"titleX":61,"titleBaseline":"middle"}},
"color":{"field":"vol","type":"nominal","scale":{"domain":["15 mL","20 mL","30 mL","40 mL"],"range":["#1e9e1e","#0c0ce0","#8a8a8a","#ee1111"]},"legend":null}},
"layer":[
{"data":{"values":[{"t":2.6}]},"mark":{"type":"rule","strokeWidth":1.5,"strokeDash":[2,3]},"encoding":{"y":{"datum":-0.7},"y2":{"datum":50.2},"color":{"value":"black"}}},
{"data":{"name":"dots"},"transform":[{"filter":"datum.p=='g'"}],"mark":{"type":"line","strokeWidth":1.5,"strokeDash":[2,3]},"encoding":{"detail":{"field":"g"}}},
{"data":{"name":"pts"},"transform":[{"filter":"datum.p=='g' && datum.g!='x'"}],"mark":{"type":"line","strokeWidth":1.5},"encoding":{"detail":{"field":"g"}}},
{"data":{"name":"pts"},"transform":[{"filter":"datum.p=='g'"}],"mark":{"type":"point","shape":"M-1,0L1,-1L1,1Z","filled":false,"fill":"white","fillOpacity":1,"opacity":1,"size":64,"strokeWidth":1.3}},
{"data":{"name":"pts"},"transform":[{"filter":"datum.p=='g' && datum.f!=1"}],"mark":{"type":"point","filled":true,"opacity":1,"size":64,"strokeWidth":0},"encoding":{"shape":{"field":"vol","type":"nominal","scale":{"domain":["15 mL","20 mL","30 mL","40 mL"],"range":["M-1,0L1,-1L1,0Z","M-1,0L1,0L1,1Z","M-1,0L0,-0.5L0,0.5Z","M0,-0.5L1,-1L1,1L0,0.5Z"]},"legend":null}}},
{"data":{"name":"pts"},"transform":[{"filter":"datum.p=='g' && datum.f==1"}],"mark":{"type":"point","shape":"M-1,0L1,-1L1,1Z","filled":true,"opacity":1,"size":64}},
{"data":{"name":"lab"},"transform":[{"filter":"datum.p=='g'"}],"mark":{"type":"text","align":"left","baseline":"middle","fontSize":15},"encoding":{"text":{"field":"txt"}}},
{"data":{"name":"let"},"transform":[{"filter":"datum.p=='g'"}],"mark":{"type":"text","align":"right","baseline":"middle","fontSize":22,"fontWeight":"bold"},"encoding":{"text":{"field":"txt"},"color":{"value":"black"}}}]},
{"width":307,"height":234,
"encoding":{"x":{"field":"t","type":"quantitative","scale":{"domain":[0,120],"nice":false,"zero":false},"axis":{"values":[0,24,48,72,96,120],"labels":false,"title":null}},
"y":{"field":"v","type":"quantitative","scale":{"domain":[0,250],"nice":false,"zero":false},"axis":{"values":[0,50,100,150,200],"title":"Glucose\u00a0\u00a0\u00a0[g/L]","titleX":-83,"titleBaseline":"middle"}},
"color":{"field":"vol","type":"nominal","scale":{"domain":["15 mL","20 mL","30 mL","40 mL"],"range":["#1e9e1e","#0c0ce0","#8a8a8a","#ee1111"]},"legend":null}},
"layer":[
{"data":{"values":[{"t":2.6}]},"mark":{"type":"rule","strokeWidth":1.5,"strokeDash":[2,3]},"encoding":{"y":{"datum":0},"y2":{"datum":250},"color":{"value":"black"}}},
{"data":{"name":"dots"},"transform":[{"filter":"datum.p=='c'"}],"mark":{"type":"line","strokeWidth":1.5,"strokeDash":[2,3]},"encoding":{"detail":{"field":"g"}}},
{"data":{"name":"pts"},"transform":[{"filter":"datum.p=='c' && datum.g!='x'"}],"mark":{"type":"line","strokeWidth":1.5},"encoding":{"detail":{"field":"g"}}},
{"data":{"name":"lead"},"transform":[{"filter":"datum.p=='c'"}],"mark":{"type":"rule","strokeWidth":1.2},"encoding":{"x2":{"field":"t2"},"y2":{"field":"v2"}}},
{"data":{"name":"pts"},"transform":[{"filter":"datum.p=='c'"}],"mark":{"type":"point","shape":"M-1,0A1,1,0,1,1,1,0A1,1,0,1,1,-1,0Z","filled":false,"fill":"white","fillOpacity":1,"opacity":1,"size":72,"strokeWidth":1.3}},
{"data":{"name":"pts"},"transform":[{"filter":"datum.p=='c' && datum.f!=1"}],"mark":{"type":"point","filled":true,"opacity":1,"size":72,"strokeWidth":0},"encoding":{"shape":{"field":"vol","type":"nominal","scale":{"domain":["15 mL","20 mL","30 mL","40 mL"],"range":["M-1,0A1,1,0,0,1,1,0Z","M-1,0A1,1,0,0,0,1,0Z","M0,-1A1,1,0,0,0,0,1Z","M0,-1A1,1,0,0,1,0,1Z"]},"legend":null}}},
{"data":{"name":"pts"},"transform":[{"filter":"datum.p=='c' && datum.f==1"}],"mark":{"type":"point","shape":"M-1,0A1,1,0,1,1,1,0A1,1,0,1,1,-1,0Z","filled":true,"opacity":1,"size":72}},
{"data":{"name":"lab"},"transform":[{"filter":"datum.p=='c'"}],"mark":{"type":"text","align":"left","baseline":"middle","fontSize":15},"encoding":{"text":{"field":"txt"}}},
{"data":{"name":"let"},"transform":[{"filter":"datum.p=='c'"}],"mark":{"type":"text","align":"right","baseline":"middle","fontSize":22,"fontWeight":"bold"},"encoding":{"text":{"field":"txt"},"color":{"value":"black"}}}]},
{"width":307,"height":234,
"encoding":{"x":{"field":"t","type":"quantitative","scale":{"domain":[0,120],"nice":false,"zero":false},"axis":{"values":[0,24,48,72,96,120],"labels":false,"title":null}},
"y":{"field":"v","type":"quantitative","scale":{"domain":[-0.75,50.1],"nice":false,"zero":false},"axis":{"orient":"right","values":[0,10,20,30,40],"title":"Meso-2,3-butanediol\u00a0\u00a0\u00a0[g/L]","titleAngle":270,"titleX":61,"titleBaseline":"middle"}},
"color":{"field":"vol","type":"nominal","scale":{"domain":["15 mL","20 mL","30 mL","40 mL"],"range":["#1e9e1e","#0c0ce0","#8a8a8a","#ee1111"]},"legend":null}},
"layer":[
{"data":{"values":[{"t":2.6}]},"mark":{"type":"rule","strokeWidth":1.5,"strokeDash":[2,3]},"encoding":{"y":{"datum":-0.75},"y2":{"datum":50.1},"color":{"value":"black"}}},
{"data":{"name":"dots"},"transform":[{"filter":"datum.p=='h'"}],"mark":{"type":"line","strokeWidth":1.5,"strokeDash":[2,3]},"encoding":{"detail":{"field":"g"}}},
{"data":{"name":"pts"},"transform":[{"filter":"datum.p=='h' && datum.g!='x'"}],"mark":{"type":"line","strokeWidth":1.5},"encoding":{"detail":{"field":"g"}}},
{"data":{"name":"lead"},"transform":[{"filter":"datum.p=='h'"}],"mark":{"type":"rule","strokeWidth":1.2},"encoding":{"x2":{"field":"t2"},"y2":{"field":"v2"}}},
{"data":{"name":"pts"},"transform":[{"filter":"datum.p=='h'"}],"mark":{"type":"point","shape":"M0,-1L0.95,-0.31L0.59,0.81L-0.59,0.81L-0.95,-0.31Z","filled":false,"fill":"white","fillOpacity":1,"opacity":1,"size":70,"strokeWidth":1.3}},
{"data":{"name":"pts"},"transform":[{"filter":"datum.p=='h' && datum.f!=1"}],"mark":{"type":"point","filled":true,"opacity":1,"size":70,"strokeWidth":0},"encoding":{"shape":{"field":"vol","type":"nominal","scale":{"domain":["15 mL","20 mL","30 mL","40 mL"],"range":["M-0.85,0L-0.95,-0.31L0,-1L0.95,-0.31L0.85,0Z","M-0.85,0L0.85,0L0.59,0.81L-0.59,0.81Z","M0,-1L-0.95,-0.31L-0.59,0.81L0,0.81Z","M0,-1L0.95,-0.31L0.59,0.81L0,0.81Z"]},"legend":null}}},
{"data":{"name":"pts"},"transform":[{"filter":"datum.p=='h' && datum.f==1"}],"mark":{"type":"point","shape":"M0,-1L0.95,-0.31L0.59,0.81L-0.59,0.81L-0.95,-0.31Z","filled":true,"opacity":1,"size":70}},
{"data":{"name":"lab"},"transform":[{"filter":"datum.p=='h'"}],"mark":{"type":"text","align":"left","baseline":"middle","fontSize":15},"encoding":{"text":{"field":"txt"}}},
{"data":{"name":"let"},"transform":[{"filter":"datum.p=='h'"}],"mark":{"type":"text","align":"right","baseline":"middle","fontSize":22,"fontWeight":"bold"},"encoding":{"text":{"field":"txt"},"color":{"value":"black"}}}]},
{"width":307,"height":234,
"encoding":{"x":{"field":"t","type":"quantitative","scale":{"domain":[0,120],"nice":false,"zero":false},"axis":{"values":[0,24,48,72,96,120],"labels":false,"title":null}},
"y":{"field":"v","type":"quantitative","scale":{"domain":[0,12],"nice":false,"zero":false},"axis":{"values":[0,2,4,6,8,10],"title":"Cell dry weight\u00a0\u00a0\u00a0[g/L]","titleX":-83,"titleBaseline":"middle"}},
"color":{"field":"vol","type":"nominal","scale":{"domain":["15 mL","20 mL","30 mL","40 mL"],"range":["#1e9e1e","#0c0ce0","#8a8a8a","#ee1111"]},"legend":null}},
"layer":[
{"data":{"values":[{"t":2.6}]},"mark":{"type":"rule","strokeWidth":1.5,"strokeDash":[2,3]},"encoding":{"y":{"datum":0},"y2":{"datum":12},"color":{"value":"black"}}},
{"data":{"name":"pts"},"transform":[{"filter":"datum.p=='d' && datum.g!='x'"}],"mark":{"type":"line","strokeWidth":1.5},"encoding":{"detail":{"field":"g"}}},
{"data":{"name":"pts"},"transform":[{"filter":"datum.p=='d'"}],"mark":{"type":"point","shape":"M0,-1L0.87,-0.5L0.87,0.5L0,1L-0.87,0.5L-0.87,-0.5Z","filled":false,"fill":"white","fillOpacity":1,"opacity":1,"size":72,"strokeWidth":1.3}},
{"data":{"name":"pts"},"transform":[{"filter":"datum.p=='d' && datum.f!=1"}],"mark":{"type":"point","filled":true,"opacity":1,"size":72,"strokeWidth":0},"encoding":{"shape":{"field":"vol","type":"nominal","scale":{"domain":["15 mL","20 mL","30 mL","40 mL"],"range":["M-0.87,0L-0.87,-0.5L0,-1L0.87,-0.5L0.87,0Z","M-0.87,0L-0.87,0.5L0,1L0.87,0.5L0.87,0Z","M0,-1L-0.87,-0.5L-0.87,0.5L0,1Z","M0,-1L0.87,-0.5L0.87,0.5L0,1Z"]},"legend":null}}},
{"data":{"name":"lab"},"transform":[{"filter":"datum.p=='d'"}],"mark":{"type":"text","align":"left","baseline":"middle","fontSize":15},"encoding":{"text":{"field":"txt"}}},
{"data":{"name":"let"},"transform":[{"filter":"datum.p=='d'"}],"mark":{"type":"text","align":"right","baseline":"middle","fontSize":22,"fontWeight":"bold"},"encoding":{"text":{"field":"txt"},"color":{"value":"black"}}}]},
{"width":307,"height":234,
"encoding":{"x":{"field":"t","type":"quantitative","scale":{"domain":[0,120],"nice":false,"zero":false},"axis":{"values":[0,24,48,72,96,120],"labels":false,"title":null}},
"y":{"field":"v","type":"quantitative","scale":{"domain":[-0.25,20.05],"nice":false,"zero":false},"axis":{"orient":"right","values":[0,5,10,15],"title":"Glycerol\u00a0\u00a0\u00a0[g/L]","titleAngle":270,"titleX":61,"titleBaseline":"middle"}},
"color":{"field":"vol","type":"nominal","scale":{"domain":["15 mL","20 mL","30 mL","40 mL"],"range":["#1e9e1e","#0c0ce0","#8a8a8a","#ee1111"]},"legend":null}},
"layer":[
{"data":{"values":[{"t":2.6}]},"mark":{"type":"rule","strokeWidth":1.5,"strokeDash":[2,3]},"encoding":{"y":{"datum":-0.25},"y2":{"datum":20.05},"color":{"value":"black"}}},
{"data":{"name":"dots"},"transform":[{"filter":"datum.p=='i'"}],"mark":{"type":"line","strokeWidth":1.5,"strokeDash":[2,3]},"encoding":{"detail":{"field":"g"}}},
{"data":{"name":"pts"},"transform":[{"filter":"datum.p=='i' && datum.g!='x'"}],"mark":{"type":"line","strokeWidth":1.5},"encoding":{"detail":{"field":"g"}}},
{"data":{"name":"lead"},"transform":[{"filter":"datum.p=='i'"}],"mark":{"type":"rule","strokeWidth":1.2},"encoding":{"x2":{"field":"t2"},"y2":{"field":"v2"}}},
{"data":{"name":"pts"},"transform":[{"filter":"datum.p=='i'"}],"mark":{"type":"point","shape":"M0,-1L1,0L0,1L-1,0Z","filled":false,"fill":"white","fillOpacity":1,"opacity":1,"size":80,"strokeWidth":1.3}},
{"data":{"name":"pts"},"transform":[{"filter":"datum.p=='i' && datum.f!=1"}],"mark":{"type":"point","filled":true,"opacity":1,"size":80,"strokeWidth":0},"encoding":{"shape":{"field":"vol","type":"nominal","scale":{"domain":["15 mL","20 mL","30 mL","40 mL"],"range":["M-1,0L0,-1L1,0Z","M-1,0L0,1L1,0Z","M0,-1L-1,0L0,1Z","M0,-1L1,0L0,1Z"]},"legend":null}}},
{"data":{"name":"pts"},"transform":[{"filter":"datum.p=='i' && datum.f==1"}],"mark":{"type":"point","shape":"M0,-1L1,0L0,1L-1,0Z","filled":true,"opacity":1,"size":80}},
{"data":{"name":"lab"},"transform":[{"filter":"datum.p=='i'"}],"mark":{"type":"text","align":"left","baseline":"middle","fontSize":15},"encoding":{"text":{"field":"txt"}}},
{"data":{"name":"let"},"transform":[{"filter":"datum.p=='i'"}],"mark":{"type":"text","align":"right","baseline":"middle","fontSize":22,"fontWeight":"bold"},"encoding":{"text":{"field":"txt"},"color":{"value":"black"}}}]},
{"width":307,"height":234,
"encoding":{"x":{"field":"t","type":"quantitative","scale":{"domain":[0,120],"nice":false,"zero":false},"axis":{"values":[0,24,48,72,96,120],"labelExpr":"datum.value==120?'':datum.label","title":"Time\u00a0\u00a0\u00a0[h]","titlePadding":6}},
"y":{"field":"v","type":"quantitative","scale":{"domain":[0,2.5],"nice":false,"zero":false},"axis":{"values":[0,0.5,1,1.5,2],"format":".1f","title":["Specific oxygen uptake rate","[mmol/gCDW/h]"],"titleX":-83,"titleBaseline":"middle","titleLineHeight":25}},
"color":{"field":"vol","type":"nominal","scale":{"domain":["15 mL","20 mL","30 mL","40 mL"],"range":["#1e9e1e","#0c0ce0","#8a8a8a","#ee1111"]},"legend":null}},
"layer":[
{"data":{"values":[{"t":2.6}]},"mark":{"type":"rule","strokeWidth":1.5,"strokeDash":[2,3]},"encoding":{"y":{"datum":0},"y2":{"datum":2.5},"color":{"value":"black"}}},
{"data":{"name":"pts"},"transform":[{"filter":"datum.p=='e' && datum.g!='x'"}],"mark":{"type":"line","strokeWidth":1.5},"encoding":{"detail":{"field":"g"}}},
{"data":{"name":"pts"},"transform":[{"filter":"datum.p=='e'"}],"mark":{"type":"point","shape":"M0,-1L0.25,-0.34L0.95,-0.31L0.4,0.13L0.59,0.81L0,0.42L-0.59,0.81L-0.4,0.13L-0.95,-0.31L-0.25,-0.34Z","filled":false,"fill":"white","fillOpacity":1,"opacity":1,"size":95,"strokeWidth":1.2}},
{"data":{"name":"pts"},"transform":[{"filter":"datum.p=='e' && datum.f!=1"}],"mark":{"type":"point","filled":true,"opacity":1,"size":95,"strokeWidth":0},"encoding":{"shape":{"field":"vol","type":"nominal","scale":{"domain":["15 mL","20 mL","30 mL","40 mL"],"range":["M-0.56,0L-0.95,-0.31L-0.25,-0.34L0,-1L0.25,-0.34L0.95,-0.31L0.56,0Z","M-0.56,0L-0.4,0.13L-0.59,0.81L0,0.42L0.59,0.81L0.4,0.13L0.56,0Z","M0,-1L-0.25,-0.34L-0.95,-0.31L-0.4,0.13L-0.59,0.81L0,0.42Z","M0,-1L0.25,-0.34L0.95,-0.31L0.4,0.13L0.59,0.81L0,0.42Z"]},"legend":null}}},
{"data":{"name":"lab"},"transform":[{"filter":"datum.p=='e'"}],"mark":{"type":"text","align":"left","baseline":"middle","fontSize":15},"encoding":{"text":{"field":"txt"}}},
{"data":{"name":"let"},"transform":[{"filter":"datum.p=='e'"}],"mark":{"type":"text","align":"right","baseline":"middle","fontSize":22,"fontWeight":"bold"},"encoding":{"text":{"field":"txt"},"color":{"value":"black"}}}]},
{"width":307,"height":234,
"encoding":{"x":{"field":"t","type":"quantitative","scale":{"domain":[0,120],"nice":false,"zero":false},"axis":{"values":[0,24,48,72,96,120],"title":"Time\u00a0\u00a0\u00a0[h]","titlePadding":6}},
"y":{"field":"v","type":"quantitative","scale":{"domain":[-0.8,60],"nice":false,"zero":false},"axis":{"orient":"right","values":[0,10,20,30,40,50],"title":"Acetoin\u00a0\u00a0\u00a0[g/L]","titleAngle":270,"titleX":61,"titleBaseline":"middle"}},
"color":{"field":"vol","type":"nominal","scale":{"domain":["15 mL","20 mL","30 mL","40 mL"],"range":["#1e9e1e","#0c0ce0","#8a8a8a","#ee1111"]},"legend":null}},
"layer":[
{"data":{"values":[{"t":2.6}]},"mark":{"type":"rule","strokeWidth":1.5,"strokeDash":[2,3]},"encoding":{"y":{"datum":-0.8},"y2":{"datum":60},"color":{"value":"black"}}},
{"data":{"name":"dots"},"transform":[{"filter":"datum.p=='j'"}],"mark":{"type":"line","strokeWidth":1.5,"strokeDash":[2,3]},"encoding":{"detail":{"field":"g"}}},
{"data":{"name":"pts"},"transform":[{"filter":"datum.p=='j' && datum.g!='x'"}],"mark":{"type":"line","strokeWidth":1.5},"encoding":{"detail":{"field":"g"}}},
{"data":{"name":"pts"},"transform":[{"filter":"datum.p=='j'"}],"mark":{"type":"point","shape":"M-1,-1L1,-1L0,1Z","filled":false,"fill":"white","fillOpacity":1,"opacity":1,"size":64,"strokeWidth":1.3}},
{"data":{"name":"pts"},"transform":[{"filter":"datum.p=='j' && datum.f!=1"}],"mark":{"type":"point","filled":true,"opacity":1,"size":64,"strokeWidth":0},"encoding":{"shape":{"field":"vol","type":"nominal","scale":{"domain":["15 mL","20 mL","30 mL","40 mL"],"range":["M-1,-1L1,-1L0.5,0L-0.5,0Z","M-0.5,0L0.5,0L0,1Z","M-1,-1L0,-1L0,1Z","M0,-1L1,-1L0,1Z"]},"legend":null}}},
{"data":{"name":"pts"},"transform":[{"filter":"datum.p=='j' && datum.f==1"}],"mark":{"type":"point","shape":"M-1,-1L1,-1L0,1Z","filled":true,"opacity":1,"size":64}},
{"data":{"name":"lab"},"transform":[{"filter":"datum.p=='j'"}],"mark":{"type":"text","align":"left","baseline":"middle","fontSize":15},"encoding":{"text":{"field":"txt"}}},
{"data":{"name":"let"},"transform":[{"filter":"datum.p=='j'"}],"mark":{"type":"text","align":"right","baseline":"middle","fontSize":22,"fontWeight":"bold"},"encoding":{"text":{"field":"txt"},"color":{"value":"black"}}}]}
]
}
